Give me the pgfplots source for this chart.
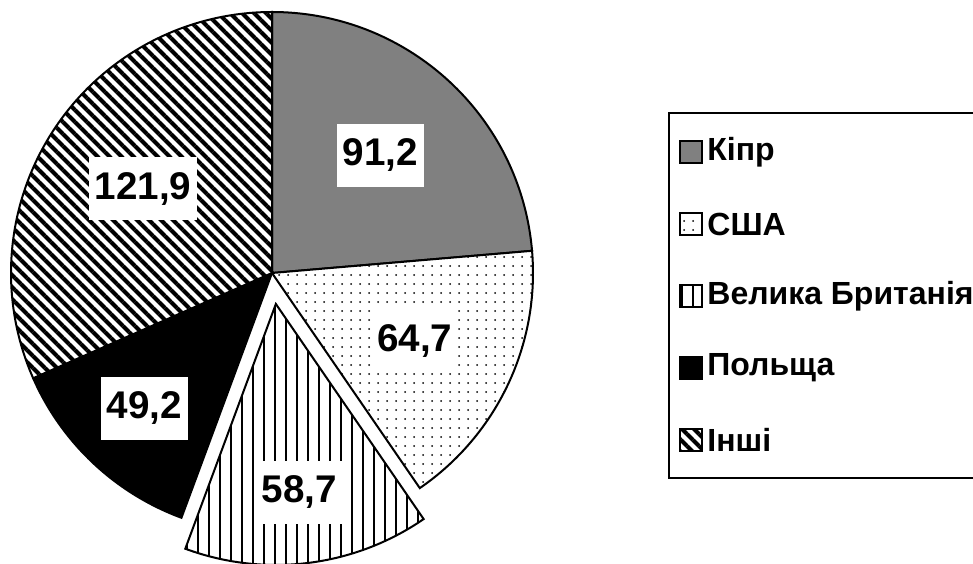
\documentclass[border=0pt]{standalone}
\usepackage{fontspec}
\setmainfont{Liberation Sans}
\usepackage{pgfplots}
\pgfplotsset{compat=1.18}
\usetikzlibrary{patterns.meta}

\tikzset{
  kipr/.style={fill=black!50},
  usa/.style={preaction={fill=white}, pattern={Dots[distance=4.5pt, radius=0.5pt]}, pattern color=black},
  uk/.style={preaction={fill=white}, pattern={Lines[angle=90, distance=5.5pt, line width=1.1pt]}, pattern color=black},
  pol/.style={fill=black},
  oth/.style={preaction={fill=white}, pattern={Lines[angle=-45, distance=4.2426pt, line width=2pt]}, pattern color=black},
  lab/.style={fill=white, inner xsep=3pt, inner ysep=0pt, minimum height=31.5pt,
    font=\fontsize{19.3}{21}\selectfont\bfseries},
}

\def\total{385.7}

\begin{document}
\begin{tikzpicture}
\begin{axis}[
    at={(0,0)}, anchor=south west,
    x=1pt, y=1pt,
    xmin=0, xmax=486.5, ymin=0, ymax=281.5,
    hide axis,
]
% value / label radius / explode
\foreach \v/\lr/\ex/\sty [remember=\e as \s (initially 90)] in
    {91.2/80/0/kipr, 64.7/79/0/usa, 58.7/95/15.6/uk, 49.2/93/0/pol, 121.9/77/0/oth}{
  \pgfmathsetmacro{\e}{\s-\v/\total*360}
  \pgfmathsetmacro{\m}{(\s+\e)/2}
  \pgfmathsetmacro{\cx}{136+\ex*cos(\m)}
  \pgfmathsetmacro{\cy}{145+\ex*sin(\m)}
  \pgfmathsetmacro{\lx}{\cx+\lr*cos(\m)}
  \pgfmathsetmacro{\ly}{\cy+\lr*sin(\m)}
  \edef\temp{%
    \noexpand\draw[\sty, line width=1pt] (axis cs:\cx,\cy) -- ++(\s:130.5pt)
      arc[start angle=\s, end angle=\e, radius=130.5pt] -- cycle;
    \noexpand\node[lab] at (axis cs:\lx,\ly)
      {\noexpand\pgfmathprintnumber[fixed, fixed zerofill, precision=1, use comma, assume math mode=true]{\v}};
  }
  \temp
}

% legend
\draw[line width=1pt] (axis cs:334.5,42.5) rectangle (axis cs:540,225);
\foreach \n/\sty [count=\i] in {Кіпр/kipr, США/usa, Велика Британія/uk, Польща/pol, Інші/oth}{
  \pgfmathsetmacro{\ly}{205.5-36*(\i-1)}
  \edef\temp{%
    \noexpand\draw[\sty, line width=0.9pt] (axis cs:340,\ly-5.5) rectangle (axis cs:351,\ly+5.5);
    \noexpand\node[anchor=west, inner sep=0pt, font=\noexpand\fontsize{16}{18}\noexpand\selectfont\noexpand\bfseries]
      at (axis cs:353.5,\ly) {\n};
  }
  \temp
}
\end{axis}
\pgfresetboundingbox
\path (0,0) rectangle (486.5pt,281.5pt);
\end{tikzpicture}
\end{document}
